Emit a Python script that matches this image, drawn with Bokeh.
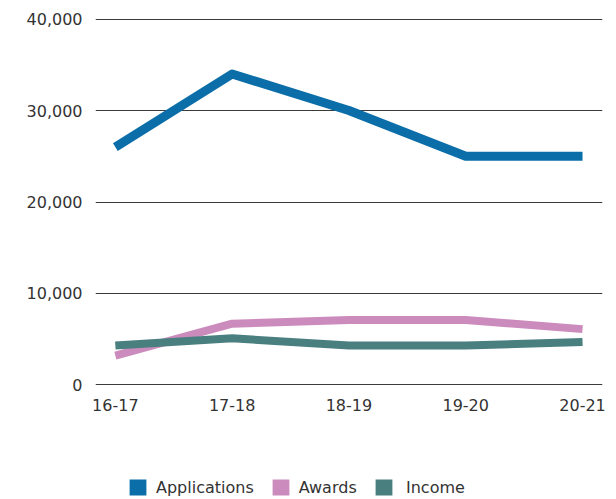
from bokeh.plotting import figure
from bokeh.layouts import column
from bokeh.models import Range1d, Legend, LegendItem, NumeralTickFormatter, FixedTicker
from bokeh.embed import file_html
from bokeh.resources import INLINE

years = ["16-17", "17-18", "18-19", "19-20", "20-21"]
applications = [26000, 34000, 30000, 25000, 25000]
awards = [3200, 6700, 7100, 7100, 6100]
income = [4300, 5100, 4300, 4300, 4700]
y_ticks = [0, 10000, 20000, 30000, 40000]

FONT = "DejaVu Sans"
TXT = "#333333"
C_APP, C_AWD, C_INC = "#0b6ea8", "#cc8bbd", "#4a7f80"
xs = list(range(len(years)))
nan = float("nan")

p = figure(width=608, height=448, output_backend="svg", toolbar_location=None,
           x_range=Range1d(-0.17, 4.171), y_range=Range1d(-500, 40500),
           min_border_left=95, min_border_right=6, min_border_top=14, min_border_bottom=59)
p.outline_line_color = None

p.line(xs, applications, line_color=C_APP, line_width=9, line_join="round")
p.line(xs, awards, line_color=C_AWD, line_width=8, line_join="round")
p.line(xs, income, line_color=C_INC, line_width=8, line_join="round")

p.xgrid.grid_line_color = None
p.ygrid.grid_line_color = "#3a3a3a"
p.ygrid.grid_line_width = 1.2
p.ygrid.ticker = FixedTicker(ticks=y_ticks)

p.yaxis.ticker = FixedTicker(ticks=y_ticks)
p.yaxis.formatter = NumeralTickFormatter(format="0,0")
p.xaxis.ticker = FixedTicker(ticks=xs)
p.xaxis.major_label_overrides = {i: y for i, y in enumerate(years)}
for ax in (p.xaxis, p.yaxis):
    ax.axis_line_color = None
    ax.major_tick_line_color = None
    ax.minor_tick_line_color = None
    ax.major_label_text_font = FONT
    ax.major_label_text_font_size = "16px"
    ax.major_label_text_color = TXT
p.yaxis.major_label_standoff = 7
p.xaxis.major_label_standoff = 3

# legend strip
lg = figure(width=608, height=49, output_backend="svg", toolbar_location=None,
            x_range=Range1d(0, 1), y_range=Range1d(0, 1),
            min_border_left=0, min_border_right=0, min_border_top=0, min_border_bottom=0)
lg.outline_line_color = None
lg.axis.visible = False
lg.grid.visible = False
q1 = lg.quad(left=[nan], right=[nan], top=[nan], bottom=[nan], fill_color=C_APP, line_color=None)
q2 = lg.quad(left=[nan], right=[nan], top=[nan], bottom=[nan], fill_color=C_AWD, line_color=None)
q3 = lg.quad(left=[nan], right=[nan], top=[nan], bottom=[nan], fill_color=C_INC, line_color=None)

common = dict(orientation="horizontal",
              label_text_font=FONT, label_text_font_size="16px", label_text_color=TXT,
              glyph_width=21, glyph_height=20, spacing=16,
              padding=0, margin=0, border_line_color=None, background_fill_alpha=0)
legend1 = Legend(items=[LegendItem(label="Applications", renderers=[q1]),
                        LegendItem(label="Awards", renderers=[q2])],
                 location=(32, 0), label_standoff=8, **common)
legend2 = Legend(items=[LegendItem(label="Income", renderers=[q3])],
                 location=(278, 0), label_standoff=12, **common)
lg.add_layout(legend1, "center")
lg.add_layout(legend2, "center")

layout = column(p, lg, spacing=0)
open("out.html", "w").write(file_html(layout, INLINE))
